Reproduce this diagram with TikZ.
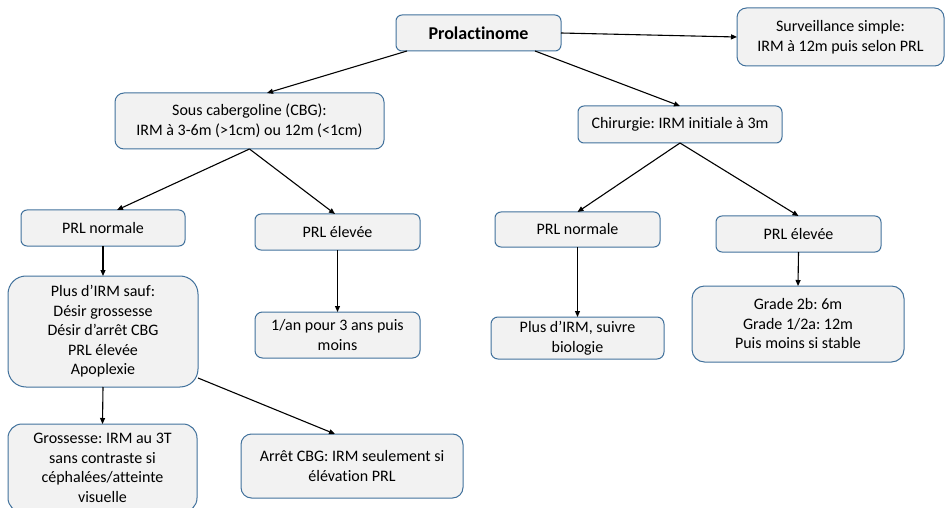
\documentclass[tikz,border=0pt]{standalone}
\usepackage{fontspec}
\setmainfont{Carlito}[RawFeature={-liga}]
\frenchspacing
\usetikzlibrary{arrows.meta}
\definecolor{boxfill}{HTML}{F2F2F2}
\definecolor{boxline}{HTML}{41719C}
\tikzset{
  box/.style={draw=boxline, fill=boxfill, line width=1pt, rounded corners=6pt,
    align=center, inner sep=2pt, outer sep=0pt,
    font=\fontsize{16pt}{19.5pt}\selectfont},
  conn/.style={draw=black, line width=1.1pt, -{Triangle[length=6pt,width=5pt]}}
}
\begin{document}
\begin{tikzpicture}[x=1pt,y=-1pt]
\useasboundingbox (0,0) rectangle (946,508);
\clip (0,0) rectangle (946,508);
% nodes
\node[box, minimum width=165pt, minimum height=36pt, font=\fontsize{18pt}{22pt}\selectfont\bfseries] (pro) at (478.5,33) {Prolactinome};
\node[box, minimum width=207pt, minimum height=58pt, rounded corners=9.5pt] (sur) at (840.5,37) {Surveillance simple:\\IRM à 12m puis selon PRL};
\node[box, minimum width=269pt, minimum height=56pt, rounded corners=9pt] (cab) at (249.5,121) {Sous cabergoline (CBG):\\IRM à 3-6m (>1cm) ou 12m (<1cm)};
\node[box, minimum width=204pt, minimum height=37pt] (chi) at (680,124.5) {Chirurgie: IRM initiale à 3m};
\node[box, minimum width=164pt, minimum height=36pt] (pnl) at (103,228) {PRL normale};
\node[box, minimum width=165pt, minimum height=36pt] (pel) at (337.5,232) {PRL élevée};
\node[box, minimum width=165pt, minimum height=35pt] (pnr) at (577.5,229.5) {PRL normale};
\node[box, minimum width=165pt, minimum height=36pt] (per) at (798.5,234) {PRL élevée};
\node[box, minimum width=190pt, minimum height=111pt, rounded corners=18pt] (plus) at (103,331.5) {Plus d’IRM sauf:\\Désir grossesse\\Désir d’arrêt CBG\\PRL élevée\\Apoplexie};
\node[box, minimum width=165pt, minimum height=46pt, rounded corners=7.5pt] (an) at (337.5,335) {1/an pour 3 ans puis\\moins};
\node[box, minimum width=173pt, minimum height=42pt, rounded corners=7pt] (sui) at (577.5,338) {Plus d’IRM, suivre\\biologie};
\node[box, minimum width=212pt, minimum height=76pt, rounded corners=12.5pt] (gra) at (798,324) {Grade 2b: 6m\\Grade 1/2a: 12m\\Puis moins si stable};
\node[box, minimum width=189pt, minimum height=88pt, rounded corners=14pt] (gro) at (102.5,468) {Grossesse: IRM au 3T\\sans contraste si\\céphalées/atteinte\\visuelle};
\node[box, minimum width=222pt, minimum height=64pt, rounded corners=10.5pt] (arr) at (352,466) {Arrêt CBG: IRM seulement si\\élévation PRL};
% connectors
\draw[conn] (pro.east) -- (sur.west);
\draw[conn] ([xshift=-71.5pt]pro.south) -- ([xshift=17.5pt]cab.north);
\draw[conn] ([xshift=56.5pt]pro.south) -- (chi.north);
\draw[conn] (cab.south) -- ([xshift=14pt]pnl.north);
\draw[conn] (cab.south) -- ([xshift=-2.5pt]pel.north);
\draw[conn] (chi.south) -- (pnr.north);
\draw[conn] (chi.south) -- (per.north);
\draw[conn] (pnl.south) -- (plus.north);
\draw[conn] (pel.south) -- (an.north);
\draw[conn] (pnr.south) -- (sui.north);
\draw[conn] (per.south) -- (gra.north);
\draw[conn] (plus.south) -- (gro.north);
\draw[conn] ([yshift=-46.5pt]plus.east) -- ([xshift=-17pt]arr.north);
\end{tikzpicture}
\end{document}
